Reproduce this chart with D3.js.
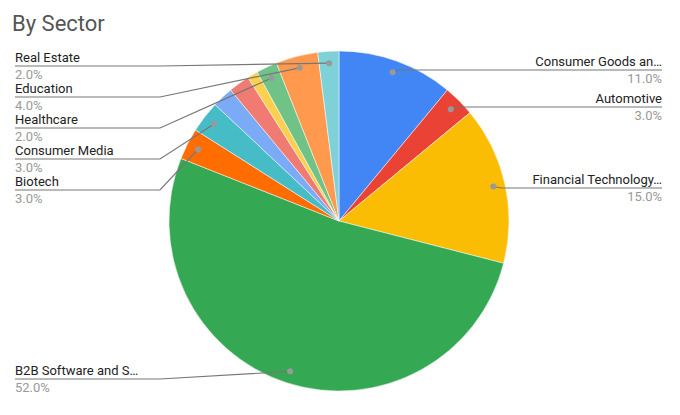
<!DOCTYPE html>
<html><head><meta charset="utf-8">
<script src="https://cdn.jsdelivr.net/npm/d3@7"></script>
<style>body{margin:0;background:#fff}text{font-family:Roboto,Arial,sans-serif}</style>
</head><body><svg id="chart" width="680" height="415"></svg>
<script>
// slices clockwise from 12 o'clock
var sectors = ["Consumer Goods an…","Automotive","Financial Technology…","B2B Software and S…","Biotech","Consumer Media","Hardware","Energy","Travel","Healthcare","Education","Real Estate"];
var shares = [11,3,15,52,3,3,2,2,1,2,4,2];
var colors = ["#4285f4","#ea4335","#fbbc04","#34a853","#ff6d01","#46bdc6","#7baaf7","#f07b72","#fcd04f","#71c287","#ff994d","#7ed1d7"];
// which slices get a label: [index, side, label y]
var labelled = [[0,"r",70],[1,"r",107],[2,"r",188],[3,"l",379],[4,"l",190],[5,"l",159],[9,"l",128],[10,"l",97],[11,"l",66]];

var svg = d3.select("#chart");
var cx = 339, cy = 221, R = 170;

svg.append("text").attr("x", 12).attr("y", 31)
  .attr("font-size", 22).attr("fill", "#555").text("By Sector");

var pie = d3.pie().sort(null).value(function (d) { return d; });
var arcs = pie(shares);
var arc = d3.arc().innerRadius(0).outerRadius(R);
var g = svg.append("g").attr("transform", "translate(" + cx + "," + cy + ")");

g.selectAll("path").data(arcs).enter().append("path")
  .attr("d", arc)
  .attr("fill", function (d, i) { return colors[i]; })
  .attr("stroke", "#fff").attr("stroke-width", 0.5);

var total = d3.sum(shares);
var fmt = d3.format(".1%");

labelled.forEach(function (l) {
  var a = arcs[l[0]], mid = (a.startAngle + a.endAngle) / 2;
  var rr = R * 0.93;
  var px = cx + rr * Math.sin(mid), py = cy - rr * Math.cos(mid);
  var right = l[1] == "r", y = l[2];
  var pts = right ? [[px, py], [px + 8, y], [662, y]] : [[px, py], [160, y], [15, y]];
  svg.append("path").attr("d", d3.line()(pts))
    .attr("fill", "none").attr("stroke", "#777").attr("stroke-width", 1.2);
  svg.append("circle").attr("cx", px).attr("cy", py).attr("r", 3).attr("fill", "#999");
  var tx = right ? 662 : 15, anchor = right ? "end" : "start";
  svg.append("text").attr("x", tx).attr("y", y - 4).attr("text-anchor", anchor)
    .attr("font-size", 13).attr("fill", "#222").text(sectors[l[0]]);
  svg.append("text").attr("x", tx).attr("y", y + 13).attr("text-anchor", anchor)
    .attr("font-size", 13).attr("fill", "#999").text(fmt(shares[l[0]] / total));
});
</script></body></html>
